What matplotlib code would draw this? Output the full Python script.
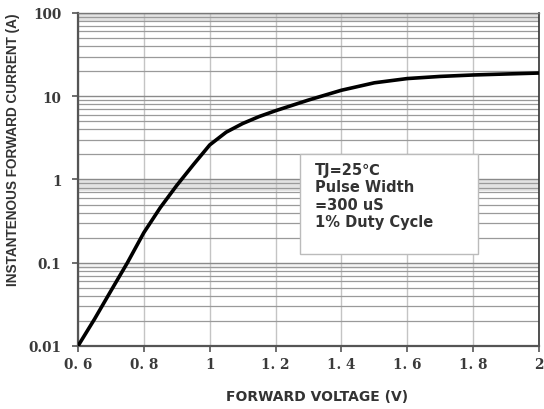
import matplotlib
matplotlib.use("Agg")
import matplotlib.pyplot as plt
from matplotlib.patches import Rectangle
from matplotlib.ticker import FixedLocator, NullFormatter

# valores
voltage = [0.6, 0.65, 0.7, 0.75, 0.8, 0.85, 0.9, 0.95, 1.0, 1.05, 1.1, 1.15, 1.2,
           1.3, 1.4, 1.5, 1.6, 1.7, 1.8, 1.9, 2.0]
current = [0.01, 0.021, 0.046, 0.10, 0.23, 0.46, 0.85, 1.5, 2.6, 3.7, 4.7, 5.7, 6.7,
           9.0, 11.8, 14.5, 16.3, 17.3, 18.0, 18.5, 19.0]

x_ticks = [0.6, 0.8, 1.0, 1.2, 1.4, 1.6, 1.8, 2.0]
x_labels = ["0. 6", "0. 8", "1", "1. 2", "1. 4", "1. 6", "1. 8", "2"]
y_ticks = [0.01, 0.1, 1, 10, 100]
y_labels = ["0.01", "0.1", "1", "10", "100"]
note = "TJ=25\u2103\nPulse Width\n=300 uS\n1% Duty Cycle"

fig = plt.figure(figsize=(5.44, 4.10), dpi=100)
ax = fig.add_axes([0.1434, 0.1537, 0.8474, 0.8122])

ax.set_yscale("log")
ax.set_xlim(0.6, 2.0)
ax.set_ylim(0.01, 100)

# bandas grises del original
for lo, hi, a in [(80, 100, 0.35), (0.72, 1.0, 0.35), (0.085, 0.1, 0.15)]:
    ax.axhspan(lo, hi, color="#b0b0b0", alpha=a, lw=0, zorder=0)

ax.yaxis.set_major_locator(FixedLocator(y_ticks))
ax.yaxis.set_minor_locator(FixedLocator(
    [m * 10.0 ** e for e in range(-2, 2) for m in range(2, 10)]))
ax.yaxis.set_minor_formatter(NullFormatter())
ax.set_yticklabels(y_labels)
ax.set_xticks(x_ticks)
ax.set_xticklabels(x_labels)

ax.grid(True, which="major", axis="y", color="#8a8a8a", lw=1.0)
ax.grid(True, which="minor", axis="y", color="#9a9a9a", lw=0.9)
ax.grid(True, which="major", axis="x", color="#c4c4c4", lw=1.0)
ax.set_axisbelow(True)

ax.plot(voltage, current, color="black", lw=2.6, solid_capstyle="round", zorder=3)

for s in ["left", "bottom"]:
    ax.spines[s].set_color("#555555")
    ax.spines[s].set_linewidth(1.6)
ax.spines["right"].set_color("#333333")
ax.spines["right"].set_linewidth(1.2)
ax.spines["top"].set_color("#777777")
ax.spines["top"].set_linewidth(1.0)

ax.tick_params(which="major", length=4, width=1.2, color="#555555", pad=4)
ax.tick_params(axis="y", which="major", pad=8)
ax.tick_params(which="minor", length=0)
for lab in ax.get_xticklabels() + ax.get_yticklabels():
    lab.set_fontfamily("DejaVu Serif")
    lab.set_fontweight("bold")
    lab.set_fontsize(9.8)
    lab.set_color("#3a3a3a")

# cuadro de condiciones
ax.add_patch(Rectangle((0.4816, 0.276), 0.3864, 0.3006, transform=ax.transAxes,
                       fc="white", ec="#bbbbbb", lw=1.0, zorder=4))
ax.text(0.514, 0.553, note, transform=ax.transAxes, fontsize=10.5, fontweight="bold",
        family=["DejaVu Sans"], color="#333333", va="top", ha="left",
        linespacing=1.2, zorder=5)

fig.text(0.583, 0.031, "FORWARD VOLTAGE (V)", ha="center", va="center", fontsize=10,
         fontweight="bold", family=["DejaVu Sans"], color="#333333")
fig.text(0.024, 0.634, "INSTANTENOUS FORWARD CURRENT (A)", rotation=90, ha="center",
         va="center", fontsize=9.8, fontweight="bold",
         family=["Liberation Sans", "DejaVu Sans"], color="#333333")

fig.savefig("out.png", dpi=100)
